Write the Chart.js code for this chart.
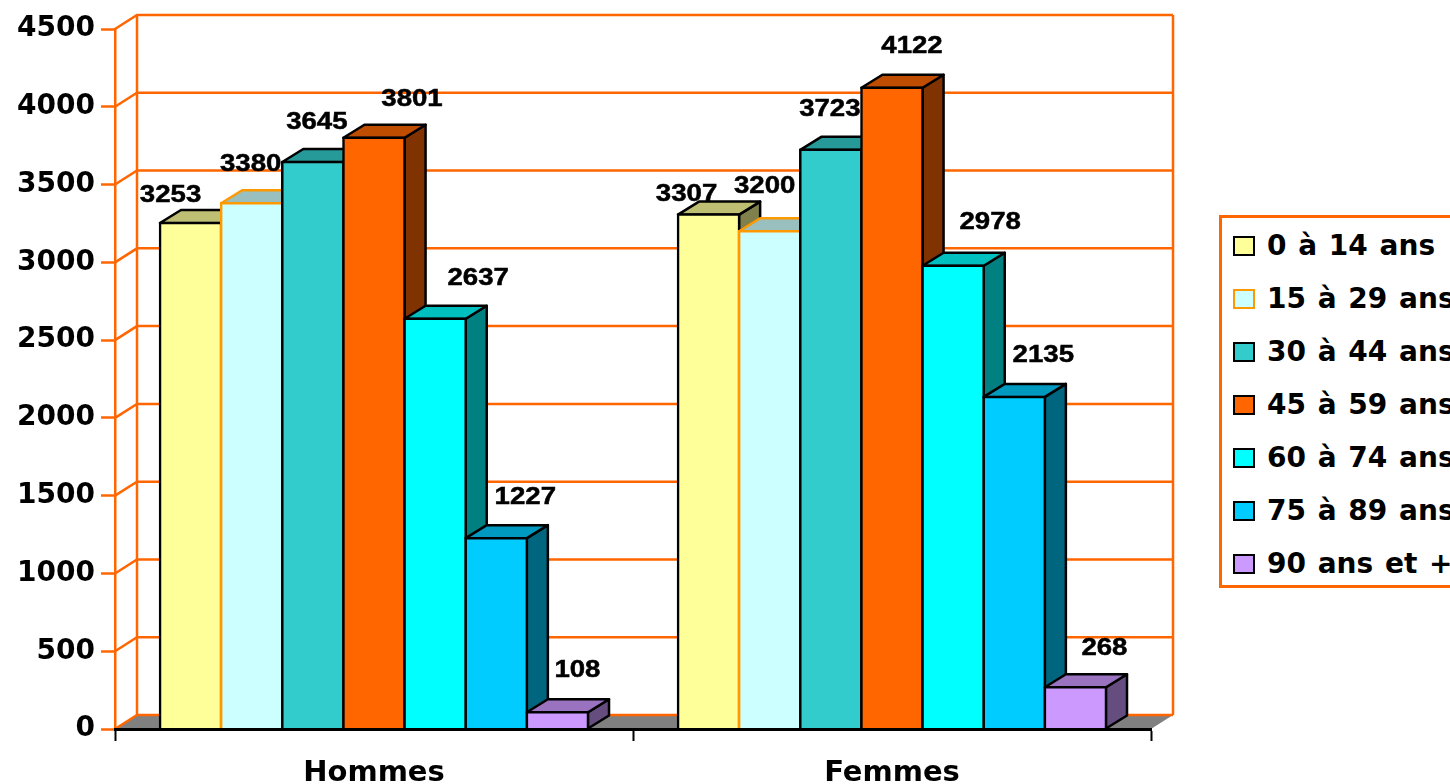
<!DOCTYPE html>
<html>
<head>
<meta charset="utf-8">
<title>Population par âge</title>
<script src="https://cdn.jsdelivr.net/npm/chart.js@4"></script>
<style>
    html, body { margin: 0; padding: 0; background: #fff; overflow: hidden; }
    #wrap { position: relative; width: 1450px; height: 784px; overflow: hidden; }
    #legend {
        position: absolute; left: 1219px; top: 215px; width: 300px; height: 373px;
        box-sizing: border-box; border: 3px solid #ff6600; background: #fff; padding-top: 1px;
        font: bold 28px "DejaVu Sans", sans-serif; word-spacing: 2px; color: #000; overflow: hidden;
    }
    .row { height: 53px; display: flex; align-items: center; white-space: pre; padding-left: 11px; }
    .swatch { width: 22px; height: 20px; box-sizing: border-box; border: 2px solid #000; margin-right: 12px; flex: none; }
</style>
</head>
<body>
<div id="wrap">
    <canvas id="chart" width="1450" height="784"></canvas>
    <div id="legend"></div>
</div>
<script>
// Data
const categories = ['Hommes', 'Femmes'];
const ageGroups = ['0 à 14 ans', '15 à 29 ans', '30 à 44 ans', '45 à 59 ans', '60 à 74 ans', '75 à 89 ans', '90 ans et +'];
const ages0to14 = [3253, 3307];
const ages15to29 = [3380, 3200];
const ages30to44 = [3645, 3723];
const ages45to59 = [3801, 4122];
const ages60to74 = [2637, 2978];
const ages75to89 = [1227, 2135];
const ages90plus = [108, 268];
const yTicks = [0, 500, 1000, 1500, 2000, 2500, 3000, 3500, 4000, 4500];

const seriesValues = [ages0to14, ages15to29, ages30to44, ages45to59, ages60to74, ages75to89, ages90plus];

// Styling
const fillColors = [[255, 255, 153], [204, 255, 255], [51, 204, 204], [255, 102, 0], [0, 255, 255], [0, 204, 255], [204, 153, 255]];
const edgeColors = ['#000', '#ff9900', '#000', '#000', '#000', '#000', '#000'];
const ORANGE = '#ff6600';
const EDGE_WIDTH = 2.5;
const WALL_DX = 22, WALL_DY = 14; // depth of the box
const BAR_DX = 21, BAR_DY = 13;   // depth of a bar

// Where each value label sits relative to the top of its bar [dx, dy], per series then category
const labelNudge = [
    [[-20, -28], [-22, -20]],
    [[-1, -39], [-5, -45]],
    [[4, -40], [-1, -40]],
    [[38, -38], [20, -41]],
    [[43, -40], [37, -43]],
    [[29, -41], [29, -42]],
    [[20, -42], [29, -39]]
];

function shade(rgb, k) {
    return `rgb(${Math.round(rgb[0] * k)}, ${Math.round(rgb[1] * k)}, ${Math.round(rgb[2] * k)})`;
}

function poly(ctx, pts, fill, stroke) {
    ctx.beginPath();
    pts.forEach((p, i) => i ? ctx.lineTo(p[0], p[1]) : ctx.moveTo(p[0], p[1]));
    ctx.closePath();
    ctx.fillStyle = fill;
    ctx.fill();
    if (stroke) {
        ctx.strokeStyle = stroke;
        ctx.lineWidth = EDGE_WIDTH;
        ctx.lineJoin = 'round';
        ctx.stroke();
    }
}

// Back wall, left wall and floor of the 3D box
const boxPlugin = {
    id: 'box',
    beforeDatasetsDraw(chart) {
        const { ctx, scales: { x, y } } = chart;
        const left = x.left, right = x.right;
        const zero = y.getPixelForValue(0);
        const top = y.getPixelForValue(y.max);
        ctx.save();
        poly(ctx, [[left, zero], [left + WALL_DX, zero - WALL_DY], [right + WALL_DX, zero - WALL_DY], [right, zero]], '#808080');
        ctx.strokeStyle = ORANGE;
        ctx.lineWidth = EDGE_WIDTH;
        y.ticks.forEach(t => {
            const py = y.getPixelForValue(t.value);
            ctx.beginPath();
            ctx.moveTo(left, py);
            ctx.lineTo(left + WALL_DX, py - WALL_DY);
            ctx.lineTo(right + WALL_DX, py - WALL_DY);
            ctx.stroke();
        });
        ctx.beginPath();
        ctx.moveTo(left + WALL_DX, zero - WALL_DY);
        ctx.lineTo(left + WALL_DX, top - WALL_DY);
        ctx.moveTo(right + WALL_DX, zero - WALL_DY);
        ctx.lineTo(right + WALL_DX, top - WALL_DY);
        ctx.stroke();
        ctx.restore();
    }
};

// Bars have to be painted left to right so each front hides its neighbour's side,
// Chart.js paints datasets the other way, so the plugin takes over the painting
const barsPlugin = {
    id: 'bars3d',
    beforeDatasetDraw() {
        return false;
    },
    afterDatasetsDraw(chart) {
        const { ctx } = chart;
        chart.data.datasets.forEach((ds, i) => {
            const meta = chart.getDatasetMeta(i);
            const rgb = fillColors[i];
            ctx.save();
            meta.data.forEach(bar => {
                const { x, y, base, width } = bar.getProps(['x', 'y', 'base', 'width'], true);
                const l = x - width / 2, r = x + width / 2;
                poly(ctx, [[r, y], [r + BAR_DX, y - BAR_DY], [r + BAR_DX, base - BAR_DY], [r, base]], shade(rgb, 0.5), '#000');
                poly(ctx, [[l, y], [l + BAR_DX, y - BAR_DY], [r + BAR_DX, y - BAR_DY], [r, y]], shade(rgb, 0.75), edgeColors[i]);
            });
            ctx.restore();
            meta.controller.draw();
        });

        // value labels, slightly stretched like the original
        chart.data.datasets.forEach((ds, i) => {
            chart.getDatasetMeta(i).data.forEach((bar, j) => {
                const { x, y } = bar.getProps(['x', 'y'], true);
                const nudge = labelNudge[i][j];
                ctx.save();
                ctx.translate(x + nudge[0], y + nudge[1]);
                ctx.scale(1.15, 1);
                ctx.font = 'bold 24px "Liberation Sans", Arial, sans-serif';
                ctx.fillStyle = '#000';
                ctx.strokeStyle = '#000';
                ctx.lineWidth = 0.5;
                ctx.textAlign = 'center';
                ctx.textBaseline = 'middle';
                ctx.fillText(String(ds.data[j]), 0, 0);
                ctx.strokeText(String(ds.data[j]), 0, 0);
                ctx.restore();
            });
        });
    }
};

const chart = new Chart(document.getElementById('chart').getContext('2d'), {
    type: 'bar',
    data: {
        labels: categories,
        datasets: ageGroups.map((name, i) => ({
            label: name,
            data: seriesValues[i],
            backgroundColor: shade(fillColors[i], 1),
            borderColor: edgeColors[i],
            borderWidth: EDGE_WIDTH,
            inflateAmount: EDGE_WIDTH / 2,
            categoryPercentage: 0.8263,
            barPercentage: 1
        }))
    },
    plugins: [boxPlugin, barsPlugin],
    options: {
        responsive: false,
        animation: false,
        layout: { padding: { top: 29, right: 299, left: 0, bottom: 0 } },
        plugins: { legend: { display: false }, tooltip: { enabled: false } },
        scales: {
            x: {
                afterFit(scale) { scale.height = 55; },
                grid: { drawOnChartArea: false, drawTicks: true, tickLength: 12, tickColor: '#000', tickWidth: 2 },
                border: { color: '#000', width: 3, z: 1 },
                ticks: {
                    color: '#000', padding: 15, maxRotation: 0,
                    font: { family: '"DejaVu Sans"', weight: 'bold', size: 29 }
                }
            },
            y: {
                min: 0,
                max: 4500,
                afterFit(scale) { scale.width = 115; },
                afterBuildTicks(scale) { scale.ticks = yTicks.map(v => ({ value: v })); },
                grid: { drawOnChartArea: false, drawTicks: true, tickLength: 14, tickColor: ORANGE, tickWidth: EDGE_WIDTH },
                border: { color: ORANGE, width: EDGE_WIDTH },
                ticks: {
                    color: '#000', padding: 6,
                    callback: v => String(v),
                    font: { family: '"DejaVu Sans"', weight: 'bold', size: 28 }
                }
            }
        }
    }
});

// Legend box, cut by the right edge of the page as in the original
const legendBox = document.getElementById('legend');
chart.data.datasets.forEach(ds => {
    const row = document.createElement('div');
    row.className = 'row';
    const swatch = document.createElement('span');
    swatch.className = 'swatch';
    swatch.style.background = ds.backgroundColor;
    swatch.style.borderColor = ds.borderColor;
    row.appendChild(swatch);
    row.appendChild(document.createTextNode(ds.label));
    legendBox.appendChild(row);
});
</script>
</body>
</html>
